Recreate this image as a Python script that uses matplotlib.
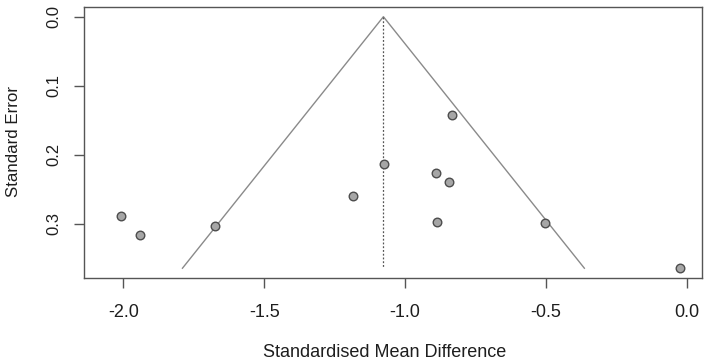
import matplotlib
matplotlib.use("Agg")
import matplotlib.pyplot as plt
import numpy as np

plt.rcParams['font.family'] = ['Liberation Sans', 'DejaVu Sans']
plt.rcParams['axes.unicode_minus'] = False

# Study effects (standardised mean difference) and standard errors
smd = [-2.009, -1.942, -1.676, -1.184, -1.075, -0.832, -0.892, -0.844, -0.886, -0.503, -0.023]
se = [0.289, 0.316, 0.303, 0.2595, 0.2136, 0.1423, 0.2257, 0.2397, 0.2967, 0.299, 0.364]
pooled = -1.077
xticks = [-2.0, -1.5, -1.0, -0.5, 0.0]
yticks = [0.0, 0.1, 0.2, 0.3]

fig = plt.figure(figsize=(7.09, 3.63), dpi=100)
ax = fig.add_axes([84/709, 1 - 278.3/363, (701.7-84)/709, (278.3-7.3)/363])

se_max = max(se)
ax.plot([pooled - 1.96*se_max, pooled, pooled + 1.96*se_max], [se_max, 0, se_max],
        color='#8a8a8a', lw=1.0)
ax.plot([pooled, pooled], [0, se_max], color='#555555', lw=0.9, linestyle=(0, (1.5, 1.5)))
ax.scatter(smd, se, s=38, facecolor='#a6a6a6', edgecolor='#4d4d4d', linewidths=1.0, zorder=3)

ax.set_xlim(-2.140, 0.053)
ax.set_ylim(0.3786, -0.0136)
ax.set_xticks(xticks)
ax.set_xticklabels([f"{v:.1f}" for v in xticks], fontsize=13)
ax.set_yticks(yticks)
ax.set_yticklabels([f"{v:.1f}" for v in yticks], rotation=90, va='center', fontsize=12)

for s in ax.spines.values():
    s.set_color('#555555')
    s.set_linewidth(1.0)
ax.tick_params(axis='both', length=7, width=1.0, color='#555555', labelcolor='#1e1e1e')
ax.tick_params(axis='x', pad=11.5)
ax.tick_params(axis='y', pad=9)

fig.text(385/709, 1 - 357/363, "Standardised Mean Difference", ha='center', va='baseline',
         fontsize=13, color='#1e1e1e')
fig.text(14/709, 1 - 142/363, "Standard Error", ha='center', va='center', rotation=90,
         fontsize=12.2, color='#1e1e1e')

fig.savefig("out.png", dpi=100)
